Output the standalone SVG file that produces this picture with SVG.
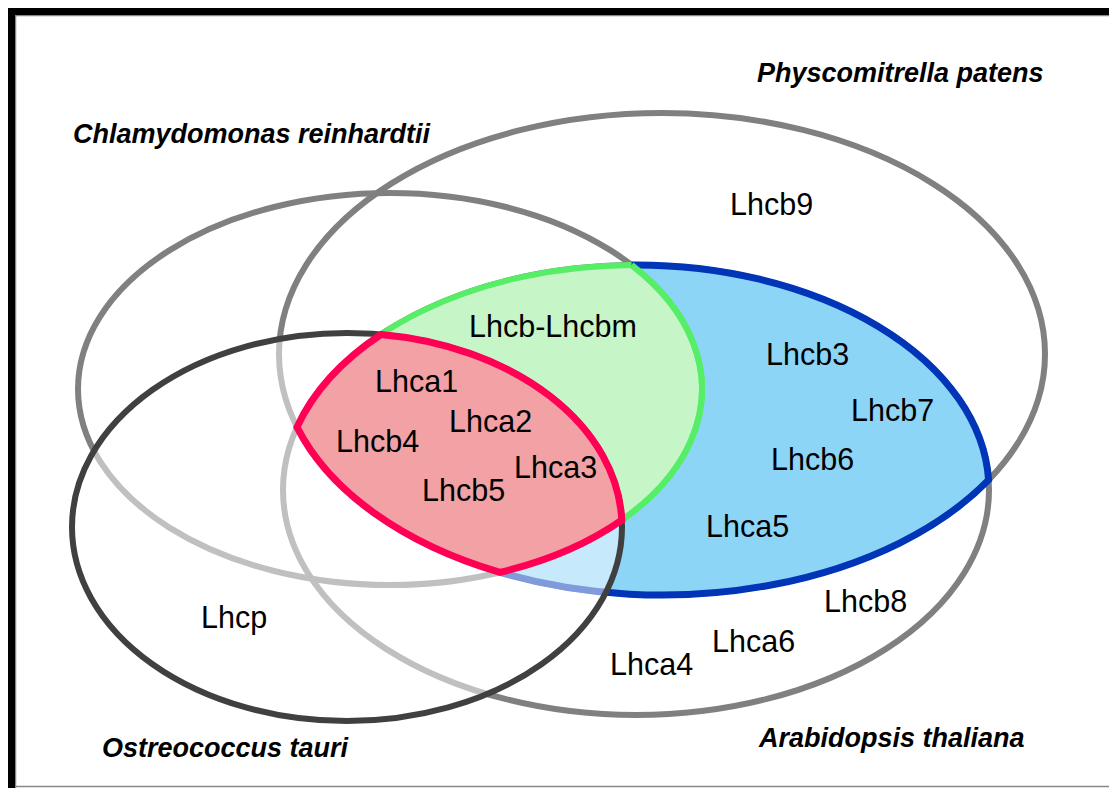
<svg xmlns="http://www.w3.org/2000/svg" width="1109" height="788" viewBox="0 0 1109 788">
<style>
.set{fill:none;stroke:#808080;stroke-width:6}
.lbl{font-family:"Liberation Sans",Arial,sans-serif;font-size:30.5px;fill:#000}
.sp{font-family:"Liberation Sans",Arial,sans-serif;font-size:27px;font-weight:bold;font-style:italic;fill:#000}
</style>
<rect x="0" y="0" width="1109" height="788" fill="#fff"/>
<g id="frame">
<line x1="15" y1="15.5" x2="1109" y2="15.5" stroke="#888" stroke-width="1.5"/>
<line x1="15.5" y1="15" x2="15.5" y2="788" stroke="#888" stroke-width="1.5"/>
<line x1="15" y1="786.5" x2="1109" y2="786.5" stroke="#888" stroke-width="1.5"/>
<rect x="8" y="8" width="1101" height="7" fill="#000"/>
<rect x="8" y="8" width="7" height="780" fill="#000"/>
</g>
<g id="set-chlamydomonas"><ellipse class="set" cx="390" cy="389" rx="312" ry="196"/></g>
<g id="set-physcomitrella"><ellipse class="set" cx="662" cy="354" rx="383" ry="241"/></g>
<g id="set-arabidopsis"><ellipse class="set" cx="636" cy="490" rx="353" ry="225"/></g>
<g id="region-blue">
<path d="M631.6,265 A353,225 0 0 1 988.6,479.9 A383,241 0 0 1 500,572.4 A312,196 0 0 0 631.6,265 Z" fill="#8dd5f7"/>
</g>
<g id="region-green">
<path d="M631.6,265 A312,196 0 0 1 500,572.4 A383,241 0 0 1 297,427.1 A353,225 0 0 1 631.6,265 Z" fill="#c6f5c8" stroke="#55ee66" stroke-width="6" stroke-linejoin="miter"/>
</g>
<path d="M631.6,265 A353,225 0 0 1 988.6,479.9 A383,241 0 0 1 500,572.4" fill="none" stroke="#0035b8" stroke-width="7" stroke-linejoin="miter"/>
<path d="M631.6,265 A312,196 0 0 1 500,572.4" fill="none" stroke="#55ee66" stroke-width="6"/>
<g id="set-ostreococcus"><ellipse cx="347" cy="527" rx="275" ry="194" fill="#fff" fill-opacity="0.5" stroke="#404040" stroke-width="6"/></g>
<g id="region-pink">
<path d="M380.9,334.5 A275,194 0 0 1 621.8,520.2 A312,196 0 0 1 500,572.4 A383,241 0 0 1 297,427.1 A353,225 0 0 1 380.9,334.5 Z" fill="#f2a1a5" stroke="#ff0055" stroke-width="7" stroke-linejoin="miter" stroke-miterlimit="10"/>
</g>
<g id="connectors"></g>
<g id="species-labels">
<text class="sp" x="757" y="82">Physcomitrella patens</text>
<text class="sp" x="73" y="143">Chlamydomonas reinhardtii</text>
<text class="sp" x="102" y="757">Ostreococcus tauri</text>
<text class="sp" x="759" y="747">Arabidopsis thaliana</text>
</g>
<g id="protein-labels">
<text class="lbl" x="730" y="215">Lhcb9</text>
<text class="lbl" x="469" y="337">Lhcb-Lhcbm</text>
<text class="lbl" x="766" y="365">Lhcb3</text>
<text class="lbl" x="375" y="392">Lhca1</text>
<text class="lbl" x="449" y="432">Lhca2</text>
<text class="lbl" x="851" y="421">Lhcb7</text>
<text class="lbl" x="336" y="452">Lhcb4</text>
<text class="lbl" x="771" y="470">Lhcb6</text>
<text class="lbl" x="514" y="478">Lhca3</text>
<text class="lbl" x="422" y="501">Lhcb5</text>
<text class="lbl" x="706" y="537">Lhca5</text>
<text class="lbl" x="824" y="612">Lhcb8</text>
<text class="lbl" x="201" y="628">Lhcp</text>
<text class="lbl" x="712" y="652">Lhca6</text>
<text class="lbl" x="610" y="675">Lhca4</text>
</g>
</svg>
